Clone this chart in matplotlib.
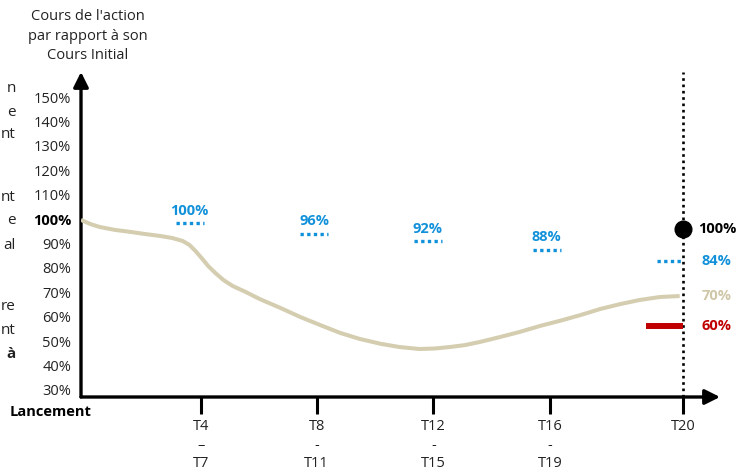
import matplotlib
matplotlib.use("Agg")
import matplotlib.pyplot as plt

plt.rcParams['font.family'] = ['Open Sans', 'DejaVu Sans']

# ---- data ----
curve_x = [0.00, 0.08, 0.16, 0.29, 0.42, 0.55, 0.68, 0.78, 0.87, 0.93, 0.98, 1.04,
           1.09, 1.15, 1.22, 1.30, 1.41, 1.53, 1.71, 1.88, 2.05, 2.22, 2.39, 2.57,
           2.73, 2.90, 3.03, 3.16, 3.29, 3.42, 3.59, 3.76, 3.93, 4.10, 4.28, 4.45,
           4.62, 4.79, 4.96, 5.13]
curve_y = [99.7, 98.0, 96.8, 95.6, 94.8, 93.9, 93.1, 92.3, 91.1, 89.4, 87.0, 83.7,
           80.8, 78.0, 75.1, 72.6, 70.2, 67.3, 63.6, 59.9, 56.6, 53.4, 50.9, 48.9,
           47.6, 46.8, 47.0, 47.6, 48.4, 49.7, 51.7, 53.8, 56.2, 58.3, 60.7, 63.2,
           65.2, 66.9, 68.1, 68.5]

ytick_values = [30, 40, 50, 60, 70, 80, 90, 100, 110, 120, 130, 140, 150]
ytick_labels = [f"{v}%" for v in ytick_values]

xtick_pos = [1.03, 2.02, 3.02, 4.02, 5.16]
xtick_labels = ["T4\n–\nT7", "T8\n-\nT11", "T12\n-\nT15", "T16\n-\nT19", "T20"]

coupon_x0 = [0.81, 1.88, 2.85, 3.87]
coupon_x1 = [1.05, 2.12, 3.09, 4.11]
coupon_y = [98.4, 93.9, 91.0, 87.4]
coupon_labels = ["100%", "96%", "92%", "88%"]

final_x = 5.16
final_dot_y = 96.0
final_dot_label = "100%"
final_coupon = (4.94, 82.9, "84%")
final_curve_label = (68.5, "70%")
final_barrier = (4.84, 56.2, "60%")

left_fragments = ["n", "e", "nt", "nt", "e", "al", "re", "nt", "à"]
left_frag_bold = [False] * 8 + [True]
left_frag_ypx = [88, 112, 135, 197, 221, 245, 306, 330, 354]

BLUE = "#1191DA"
RED = "#C00000"
BEIGE = "#D4CDB0"
BEIGE_TXT = "#CFC7A8"

W, H = 755, 473
fig = plt.figure(figsize=(W / 100, H / 100), dpi=100)
ax = fig.add_axes([81 / W, 76 / H, (720 - 81) / W, (397 - 72) / H])
ax.set_xlim(0, (720 - 81) / 116.7)
ax.set_ylim(27.13, 160.3)
for s in ax.spines.values():
    s.set_visible(False)

# axes arrows
ax.annotate("", xy=(1, 0), xytext=(0, 0), xycoords="axes fraction",
            arrowprops=dict(arrowstyle="-|>,head_length=0.9,head_width=0.45",
                            lw=2.4, color="black", shrinkA=0, shrinkB=0))
ax.annotate("", xy=(0, 1), xytext=(0, 0), xycoords="axes fraction",
            arrowprops=dict(arrowstyle="-|>,head_length=0.9,head_width=0.45",
                            lw=2.4, color="black", shrinkA=0, shrinkB=0))

# y ticks
ax.set_yticks(ytick_values)
ax.set_yticklabels(ytick_labels)
ax.tick_params(axis="y", length=0, pad=7, labelsize=10.5, colors="#222222")
for lab in ax.get_yticklabels():
    if lab.get_text() == "100%":
        lab.set_fontweight("bold")
        lab.set_color("black")

# x ticks
ax.set_xticks(xtick_pos)
ax.set_xticklabels(xtick_labels, linespacing=1.3)
ax.tick_params(axis="x", direction="out", length=12, width=2.2, pad=4,
               labelsize=10.5, colors="black")
for lab in ax.get_xticklabels():
    lab.set_color("#222222")

# vertical dotted line
ax.plot([final_x, final_x], [27.13, 160.3], color="black", lw=1.9,
        linestyle=(0, (1, 1.4)), zorder=2)

# curve
ax.plot(curve_x, curve_y, color=BEIGE, lw=2.9, solid_capstyle="butt",
        solid_joinstyle="round", zorder=3)

# coupon dashes + labels
for x0, x1, y, lab in zip(coupon_x0, coupon_x1, coupon_y, coupon_labels):
    ax.plot([x0, x1], [y, y], color=BLUE, lw=2.4, linestyle=(0, (1, 1)), zorder=3)
    ax.annotate(lab, xy=((x0 + x1) / 2, y), xytext=(0, 4), textcoords="offset points",
                ha="center", va="bottom", color=BLUE, fontsize=10.5, fontweight="bold")

# final point
ax.plot([final_x], [final_dot_y], "o", color="black", ms=12, zorder=5)
ax.annotate(final_dot_label, xy=(final_x, final_dot_y), xytext=(11, 0),
            textcoords="offset points", ha="left", va="center",
            fontsize=10.5, fontweight="bold", color="black")

cx, cy, clab = final_coupon
ax.plot([cx, final_x], [cy, cy], color=BLUE, lw=2.4, linestyle=(0, (1, 1)), zorder=3)
ax.annotate(clab, xy=(final_x, cy), xytext=(13, 0), textcoords="offset points",
            ha="left", va="center", fontsize=10.5, fontweight="bold", color=BLUE)

ly, llab = final_curve_label
ax.annotate(llab, xy=(final_x, ly), xytext=(13, 0), textcoords="offset points",
            ha="left", va="center", fontsize=10.5, fontweight="bold", color=BEIGE_TXT)

bx, by, blab = final_barrier
ax.plot([bx, final_x], [by, by], color=RED, lw=4.3, solid_capstyle="butt", zorder=4)
ax.annotate(blab, xy=(final_x, by), xytext=(13, 0), textcoords="offset points",
            ha="left", va="center", fontsize=10.5, fontweight="bold", color=RED)

# y axis title
fig.text(88 / W, 1 - 36 / H, "Cours de l'action\npar rapport à son\nCours Initial",
         ha="center", va="center", fontsize=10.5, color="#222222", linespacing=1.38)

# "Lancement"
fig.text(10 / W, 1 - 412 / H, "Lancement", ha="left", va="center",
         fontsize=10.5, fontweight="bold", color="black")

# cut-off left text fragments
for frag, b, ypx in zip(left_fragments, left_frag_bold, left_frag_ypx):
    fig.text(16 / W, 1 - ypx / H, frag, ha="right", va="center",
             fontsize=11, fontweight="bold" if b else "normal", color="#222222")

fig.savefig("out.png", dpi=100)
